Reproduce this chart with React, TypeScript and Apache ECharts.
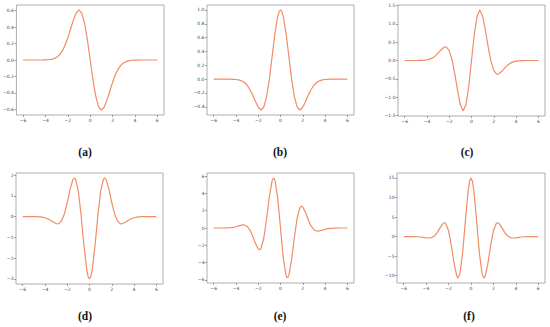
import React, { useEffect, useRef } from "react";
import * as echarts from "echarts";

const xs = [-6, -5.75, -5.5, -5.25, -5, -4.75, -4.5, -4.25, -4, -3.75, -3.5, -3.25, -3, -2.75, -2.5, -2.25, -2, -1.75, -1.5, -1.25, -1, -0.75, -0.5, -0.25, 0,
  0.25, 0.5, 0.75, 1, 1.25, 1.5, 1.75, 2, 2.25, 2.5, 2.75, 3, 3.25, 3.5, 3.75, 4, 4.25, 4.5, 4.75, 5, 5.25, 5.5, 5.75, 6];

const valuesA = [0, 0, 0, 0, 0, 0.0001, 0.0002, 0.0005, 0.0013, 0.0033, 0.0077, 0.0165, 0.0333, 0.0627, 0.1098, 0.1791, 0.2707, 0.3785, 0.487, 0.5723, 0.6065, 0.5661, 0.4412, 0.2423, 0,
  -0.2423, -0.4412, -0.5661, -0.6065, -0.5723, -0.487, -0.3785, -0.2707, -0.1791, -0.1098, -0.0627, -0.0333, -0.0165, -0.0077, -0.0033, -0.0013, -0.0005, -0.0002, -0.0001, 0, 0, 0, 0, 0];
const extraXA: number[] = [];
const extraYA: number[] = [];

const valuesB = [0, 0, 0, 0, -0.0001, -0.0003, -0.0008, -0.002, -0.005, -0.0115, -0.0246, -0.0486, -0.0888, -0.1496, -0.2305, -0.3234, -0.406, -0.4461, -0.4059, -0.2575, 0, 0.3302, 0.6619, 0.9086, 1,
  0.9086, 0.6619, 0.3302, 0, -0.2575, -0.4059, -0.4461, -0.406, -0.3234, -0.2305, -0.1496, -0.0888, -0.0486, -0.0246, -0.0115, -0.005, -0.002, -0.0008, -0.0003, -0.0001, 0, 0, 0, 0];
const extraXB = [-1.732, -0.125, 0.125, 1.732];
const extraYB = [-0.4463, 0.9767, 0.9767, -0.4463];

const valuesC = [0, 0, 0, 0.0001, 0.0004, 0.0012, 0.0031, 0.0077, 0.0174, 0.0367, 0.0709, 0.1249, 0.1998, 0.2861, 0.3567, 0.3694, 0.2707, 0.0237, -0.3653, -0.8226, -1.2131, -1.3799, -1.2134, -0.7118, 0,
  0.7118, 1.2134, 1.3799, 1.2131, 0.8226, 0.3653, -0.0237, -0.2707, -0.3694, -0.3567, -0.2861, -0.1998, -0.1249, -0.0709, -0.0367, -0.0174, -0.0077, -0.0031, -0.0012, -0.0004, -0.0001, 0, 0, 0];
const extraXC = [-2.334, -0.742, 0.742, 2.334];
const extraYC = [0.3746, -1.3802, 1.3802, -0.3746];

const valuesD = [0, -0.0001, -0.0002, -0.0006, -0.0018, -0.0047, -0.0117, -0.0265, -0.0546, -0.1029, -0.1742, -0.26, -0.3333, -0.3378, -0.2003, 0.139, 0.6767, 1.297, 1.7655, 1.8008, 1.2131, 0.0442, -1.3789, -2.5479, -3,
  -2.5479, -1.3789, 0.0442, 1.2131, 1.8008, 1.7655, 1.297, 0.6767, 0.139, -0.2003, -0.3378, -0.3333, -0.26, -0.1742, -0.1029, -0.0546, -0.0265, -0.0117, -0.0047, -0.0018, -0.0006, -0.0002, -0.0001, 0];
const extraXD = [-2.857, -1.3556, -0.125, 0.125, 1.3556, 2.857];
const extraYD = [-0.3486, 1.855, -2.8839, -2.8839, 1.855, -0.3486];

const valuesE = [0.0001, 0.0003, 0.0009, 0.0027, 0.0073, 0.0179, 0.0402, 0.0819, 0.1487, 0.2391, 0.3262, 0.3456, 0.1998, -0.2152, -0.926, -1.7903, -2.436, -2.3644, -1.1872, 1.0394, 3.6392, 5.4863, 5.5432, 3.484, 0,
  -3.484, -5.5432, -5.4863, -3.6392, -1.0394, 1.1872, 2.3644, 2.436, 1.7903, 0.926, 0.2152, -0.1998, -0.3456, -0.3262, -0.2391, -0.1487, -0.0819, -0.0402, -0.0179, -0.0073, -0.0027, -0.0009, -0.0003, -0.0001];
const extraXE = [-3.3243, -1.8892, -0.6167, 0.6167, 1.8892, 3.3243];
const extraYE = [0.3526, -2.5226, 5.783, -5.783, 2.5226, -0.3526];

const valuesF = [-0.0004, -0.0014, -0.0041, -0.0111, -0.0275, -0.0611, -0.1223, -0.2156, -0.3219, -0.3822, -0.2707, 0.1768, 1.0656, 2.2823, 3.3166, 3.3329, 1.4886, -2.3469, -7.0469, -10.303, -9.7041, -4.336, 4.1229, 11.8687, 15,
  11.8687, 4.1229, -4.336, -9.7041, -10.303, -7.0469, -2.3469, 1.4886, 3.3329, 3.3166, 2.2823, 1.0656, 0.1768, -0.2707, -0.3822, -0.3219, -0.2156, -0.1223, -0.0611, -0.0275, -0.0111, -0.0041, -0.0014, -0.0004];
const extraXF = [-3.7504, -2.3667, -1.1544, -0.125, 0.125, 1.1544, 2.3667, 3.7504];
const extraYF = [-0.3824, 3.514, -10.63, 14.189, 14.189, -10.63, 3.514, -0.3824];

const xTicks = [-6, -4, -2, 0, 2, 4, 6];
const yTicksA = [-0.6, -0.4, -0.2, 0, 0.2, 0.4, 0.6];
const yTicksB = [-0.4, -0.2, 0, 0.2, 0.4, 0.6, 0.8, 1.0];
const yTicksC = [-1.5, -1.0, -0.5, 0, 0.5, 1.0, 1.5];
const yTicksD = [-3, -2, -1, 0, 1, 2];
const yTicksE = [-6, -4, -2, 0, 2, 4, 6];
const yTicksF = [-10, -5, 0, 5, 10, 15];
const panelLabels = ["(a)", "(b)", "(c)", "(d)", "(e)", "(f)"];

function build(vals: number[], ex: number[], ey: number[]) {
  const pts: number[][] = xs.map((x, i) => [x, vals[i]]);
  ex.forEach((x, i) => pts.push([x, ey[i]]));
  pts.sort((p, q) => p[0] - q[0]);
  return pts;
}

const panels = [
  { data: build(valuesA, extraXA, extraYA), ticks: yTicksA, dec: 1, ymin: -0.667, ymax: 0.667, grid: { left: 16, top: 5, width: 148, height: 110 }, lab: [85, 152] },
  { data: build(valuesB, extraXB, extraYB), ticks: yTicksB, dec: 1, ymin: -0.5186, ymax: 1.0723, grid: { left: 207, top: 5, width: 147, height: 110 }, lab: [280, 152] },
  { data: build(valuesC, extraXC, extraYC), ticks: yTicksC, dec: 1, ymin: -1.518, ymax: 1.518, grid: { left: 398, top: 5, width: 147, height: 111 }, lab: [467, 152] },
  { data: build(valuesD, extraXD, extraYD), ticks: yTicksD, dec: 0, ymin: -3.243, ymax: 2.098, grid: { left: 16, top: 173, width: 147, height: 111 }, lab: [85, 316] },
  { data: build(valuesE, extraXE, extraYE), ticks: yTicksE, dec: 0, ymin: -6.36, ymax: 6.36, grid: { left: 207, top: 173, width: 147, height: 110 }, lab: [280, 316] },
  { data: build(valuesF, extraXF, extraYF), ticks: yTicksF, dec: 0, ymin: -11.91, ymax: 16.28, grid: { left: 397, top: 173, width: 148, height: 110 }, lab: [469, 316] },
];

const fmt = (v: number, d: number) => {
  const s = Math.abs(v).toFixed(d);
  return v < 0 ? "\u2212" + s : s;
};

export default function App() {
  const ref = useRef<HTMLDivElement>(null);
  useEffect(() => {
    if (!ref.current) return;
    const chart = echarts.init(ref.current, undefined, { renderer: "svg" });
    const labelStyle = { fontSize: 4.5, color: "#444", fontFamily: "DejaVu Sans" };
    const option: any = {
      animation: false,
      backgroundColor: "#ffffff",
      grid: panels.map((p) => ({ ...p.grid, show: true, borderColor: "#9a9a9a", borderWidth: 0.8, backgroundColor: "transparent" })),
      xAxis: panels.map((p, i) => ({
        type: "value",
        gridIndex: i,
        position: "bottom",
        min: -6.6,
        max: 6.6,
        axisLine: { show: false, onZero: false },
        splitLine: { show: false },
        axisTick: { show: true, inside: false, length: 2, lineStyle: { color: "#666", width: 0.6 }, customValues: xTicks },
        axisLabel: { ...labelStyle, margin: 2.5, customValues: xTicks, formatter: (v: number) => fmt(v, 0) },
      })),
      yAxis: panels.map((p, i) => ({
        type: "value",
        gridIndex: i,
        position: "left",
        min: p.ymin,
        max: p.ymax,
        axisLine: { show: false, onZero: false },
        splitLine: { show: false },
        axisTick: { show: true, inside: false, length: 2, lineStyle: { color: "#666", width: 0.6 }, customValues: p.ticks },
        axisLabel: { ...labelStyle, margin: 2.5, customValues: p.ticks, formatter: (v: number) => fmt(v, p.dec) },
      })),
      series: panels.map((p, i) => ({
        type: "line",
        xAxisIndex: i,
        yAxisIndex: i,
        data: p.data,
        showSymbol: false,
        smooth: false,
        lineStyle: { color: "#F28B67", width: 1.2 },
      })),
      graphic: panels.map((p, i) => ({
        type: "text",
        x: p.lab[0],
        y: p.lab[1],
        style: {
          text: panelLabels[i],
          fontSize: 11.5,
          fontWeight: "bold",
          fontFamily: "Liberation Serif",
          fill: "#111",
          align: "center",
          verticalAlign: "middle",
        },
      })),
    };
    chart.setOption(option);
    return () => chart.dispose();
  }, []);
  return <div ref={ref} style={{ position: "fixed", left: 0, top: 0, width: 550, height: 327 }} />;
}
